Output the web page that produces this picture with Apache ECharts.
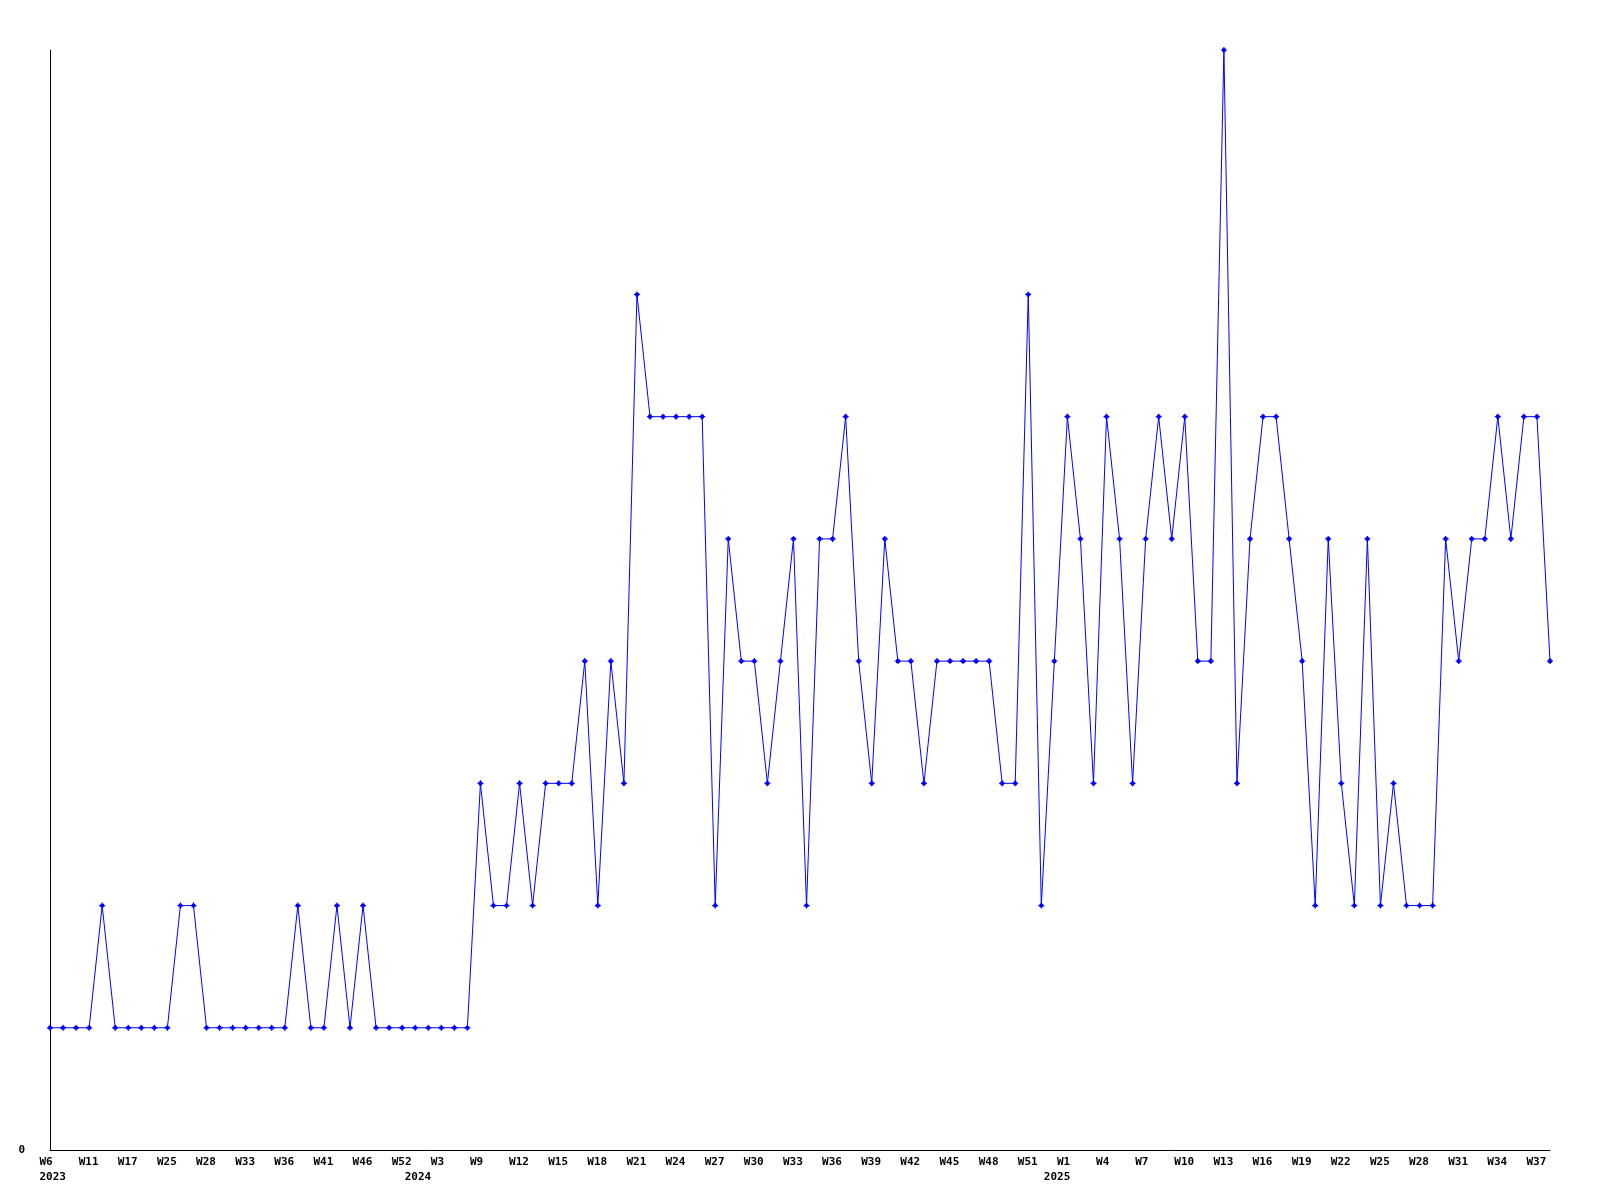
<!DOCTYPE html>
<html>
<head>
<meta charset="utf-8">
<title>Weekly count</title>
<script src="https://cdn.jsdelivr.net/npm/echarts@6/dist/echarts.min.js"></script>
<style>
  html, body { margin: 0; padding: 0; background: #fff; }
  #main { width: 1600px; height: 1200px; }
</style>
</head>
<body>
<div id="main"></div>
<script>
// weeks that have a point, per year
var weeks2023 = [6, 7, 9, 11, 13, 15, 17, 20, 22, 25, 26, 27, 28, 30, 31, 33, 34, 35, 36, 38, 40, 41, 43, 44, 46, 48, 50, 52];
var weeks2024 = [1, 2, 3, 5, 7, 9, 10, 11, 12, 13, 14, 15, 16, 17, 18, 19, 20, 21, 22, 23, 24, 25, 26, 27, 28, 29, 30,
  31, 32, 33, 34, 35, 36, 37, 38, 39, 40, 41, 42, 43, 44, 45, 46, 47, 48, 49, 50, 51, 52];
var weeks2025 = [0, 1, 2, 3, 4, 5, 6, 7, 8, 9, 10, 11, 12, 13, 14, 15, 16, 17, 18, 19, 20, 21, 22, 23, 24, 25, 26, 27,
  28, 29, 30, 31, 32, 33, 34, 35, 36, 37, 38];

var values = [
  1, 1, 1, 1, 2, 1, 1, 1, 1, 1,
  2, 2, 1, 1, 1, 1, 1, 1, 1, 2,
  1, 1, 2, 1, 2, 1, 1, 1, 1, 1,
  1, 1, 1, 3, 2, 2, 3, 2, 3, 3,
  3, 4, 2, 4, 3, 7, 6, 6, 6, 6,
  6, 2, 5, 4, 4, 3, 4, 5, 2, 5,
  5, 6, 4, 3, 5, 4, 4, 3, 4, 4,
  4, 4, 4, 3, 3, 7, 2, 4, 6, 5,
  3, 6, 5, 3, 5, 6, 5, 6, 4, 4,
  9, 3, 5, 6, 6, 5, 4, 2, 5, 3,
  2, 5, 2, 3, 2, 2, 2, 5, 4, 5,
  5, 6, 5, 6, 6, 4
];

// category labels: week name, and the year shown at the first week of each year
var weekLabels = [];
var yearLabels = [];
[[2023, weeks2023], [2024, weeks2024], [2025, weeks2025]].forEach(function (g) {
  g[1].forEach(function (w, i) {
    weekLabels.push('W' + w);
    yearLabels.push(i === 0 ? String(g[0]) : '');
  });
});

var font = 'DejaVu Sans Mono';
var labelStyle = {
  color: '#000',
  fontFamily: font,
  fontSize: 11,
  fontWeight: 'bold'
};

var chart = echarts.init(document.getElementById('main'));
chart.setOption({
  animation: false,
  backgroundColor: '#fff',
  grid: { left: 50, right: 50, top: 50, bottom: 50, containLabel: false },
  xAxis: [
    {
      type: 'category',
      data: weekLabels,
      boundaryGap: false,
      position: 'bottom',
      axisLine: { show: true, lineStyle: { color: '#000', width: 1 } },
      axisTick: { show: false },
      splitLine: { show: false },
      axisLabel: {
        interval: 2,
        margin: 7,
        align: 'center',
        formatter: function (v) { return '{w|' + v + '}'; },
        rich: { w: Object.assign({ width: 21, align: 'left' }, labelStyle) }
      }
    },
    {
      type: 'category',
      data: yearLabels,
      boundaryGap: false,
      position: 'bottom',
      offset: 15,
      axisLine: { show: false },
      axisTick: { show: false },
      splitLine: { show: false },
      axisLabel: {
        interval: 0,
        margin: 7,
        align: 'center',
        formatter: function (v) { return v ? '{w|' + v + '}' : ''; },
        rich: { w: Object.assign({ width: 21, align: 'left' }, labelStyle) }
      }
    }
  ],
  yAxis: {
    type: 'value',
    min: 0,
    max: 9,
    interval: 9,
    axisLine: { show: true, lineStyle: { color: '#000', width: 1 } },
    axisTick: { show: false },
    splitLine: { show: false },
    axisLabel: Object.assign({
      margin: 25,
      formatter: function (v) { return v === 0 ? '0' : ''; }
    }, labelStyle)
  },
  series: [
    {
      type: 'line',
      data: values,
      xAxisIndex: 0,
      symbol: 'path://M2,0H3V1H4V2H5V3H4V4H3V5H2V4H1V3H0V2H1V1H2Z',
      symbolSize: 6,
      showAllSymbol: true,
      itemStyle: { color: '#0000ff' },
      lineStyle: { color: '#0000ff', width: 1 },
      emphasis: { disabled: true }
    }
  ]
});
</script>
</body>
</html>
